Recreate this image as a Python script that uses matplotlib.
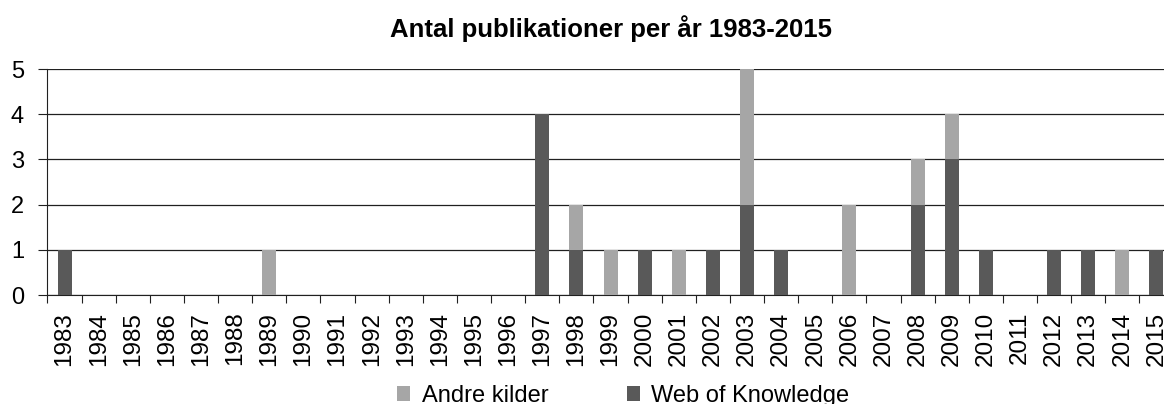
import matplotlib
matplotlib.use("Agg")
import matplotlib.pyplot as plt
import numpy as np

plt.rcParams["font.family"] = ["Liberation Sans", "DejaVu Sans"]

years = list(range(1983, 2016))
web_of_knowledge = [1, 0, 0, 0, 0, 0, 0, 0, 0, 0, 0, 0, 0, 0, 4, 1, 0, 1, 0, 1, 2, 1,
                    0, 0, 0, 2, 3, 1, 0, 1, 1, 0, 1]
andre_kilder = [0, 0, 0, 0, 0, 0, 1, 0, 0, 0, 0, 0, 0, 0, 0, 1, 1, 0, 1, 0, 3, 0,
                0, 2, 0, 1, 1, 0, 0, 0, 0, 1, 0]

dark = "#595959"
light = "#a6a6a6"

fig = plt.figure(figsize=(11.64, 4.04), dpi=100)
ax = fig.add_axes([0.0408, 0.2698, 0.9674, 0.5594])

x = np.arange(len(years))
ax.bar(x, web_of_knowledge, width=0.41, color=dark, label="Web of Knowledge", zorder=3)
ax.bar(x, andre_kilder, width=0.41, bottom=web_of_knowledge, color=light,
       label="Andre kilder", zorder=3)

ax.set_xlim(-0.5, len(years) - 0.5)
ax.set_ylim(0, 5)
ax.set_yticks(range(0, 6))
ax.tick_params(axis="y", labelsize=17, length=6.5, width=0.8, pad=10.5, color="#202020")
ax.yaxis.grid(True, color="#202020", linewidth=0.9, zorder=0)

# ticks on the category boundaries, labels in the middle
ax.set_xticks(np.arange(len(years) + 1) - 0.5)
ax.set_xticklabels([])
ax.tick_params(axis="x", which="major", length=6, width=0.8, color="#202020")
ax.set_xticks(x, minor=True)
ax.set_xticklabels([str(y) for y in years], minor=True, rotation=90, fontsize=17.5)
ax.tick_params(axis="x", which="minor", length=0, pad=12)

for side in ["top", "right"]:
    ax.spines[side].set_visible(False)
ax.spines["left"].set_color("#202020")
ax.spines["bottom"].set_color("#202020")

ax.set_title("Antal publikationer per år 1983-2015", fontsize=18.5, fontweight="bold", pad=23)

h, l = ax.get_legend_handles_labels()
fig.legend(h[::-1], l[::-1], loc="center", bbox_to_anchor=(0.5355, 0.02), ncol=2,
           frameon=False, fontsize=17, handlelength=0.55, handleheight=0.55,
           handletextpad=0.5, columnspacing=3.3)

fig.savefig("out.png", dpi=100)
